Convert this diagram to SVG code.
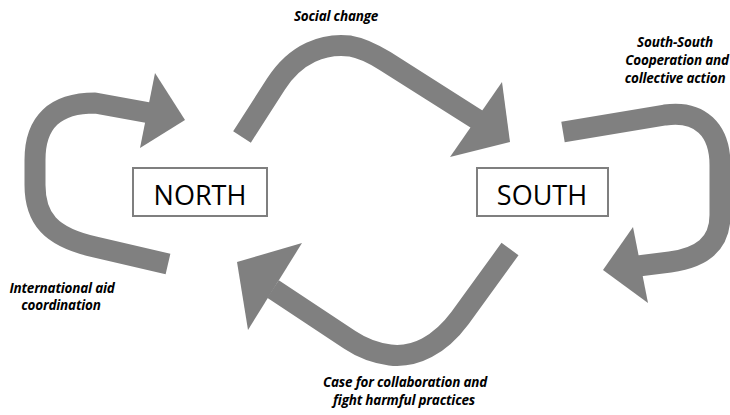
<svg xmlns="http://www.w3.org/2000/svg" width="730" height="415" viewBox="0 0 730 415">
<style>
.box{fill:#fff;stroke:#7f7f7f;stroke-width:2}
.node{font-family:"Open Sans","Liberation Sans",sans-serif;font-size:27px;fill:#000;text-anchor:middle}
.arr{fill:none;stroke:#808080;stroke-width:21;stroke-linejoin:round}
.head{fill:#808080}
.lbl{font-family:"Open Sans","Liberation Sans",sans-serif;font-size:13.5px;font-weight:bold;font-style:italic;fill:#000;text-anchor:middle;letter-spacing:-0.2px}
</style>
<rect width="730" height="415" fill="#fff"/>
<g id="connectors">
  <g id="arrow-intl-aid">
    <path class="arr" d="M168,264 L95,247 C50,237 35,218 35,185 L35,160 C35,122 55,103 95,103 L150,113"/>
    <polygon class="head" points="155,73 185,120 140,148"/>
  </g>
  <g id="arrow-social-change">
    <path class="arr" d="M242,137 L276,84 C296,53 324,43 350,46 C362,48 372,53 385,61 L478,120"/>
    <polygon class="head" points="502,82 510,142 450,157"/>
  </g>
  <g id="arrow-south-south">
    <path class="arr" d="M563,132 L665,115 C700,110 720,130 720,165 L720,215 C720,245 700,258 670,262 L638,266"/>
    <polygon class="head" points="633,227 603,270 648,303"/>
  </g>
  <g id="arrow-collaboration">
    <path class="arr" d="M510,249 L460,318 C440,345 415,358 390,355 C375,353 362,348 350,340 L273,289"/>
    <polygon class="head" points="302,243 237,262 248,330"/>
  </g>
</g>
<g id="north">
  <rect class="box" x="133" y="168" width="134" height="48"/>
  <text class="node" x="200" y="205">NORTH</text>
</g>
<g id="south">
  <rect class="box" x="477" y="168" width="131" height="48"/>
  <text class="node" x="542" y="205">SOUTH</text>
</g>
<g id="labels">
  <text class="lbl" x="336" y="21">Social change</text>
  <text class="lbl" x="675" y="47">South-South</text>
  <text class="lbl" x="677" y="65">Cooperation and</text>
  <text class="lbl" x="675" y="83">collective action</text>
  <text class="lbl" x="62" y="293">International aid</text>
  <text class="lbl" x="61" y="310">coordination</text>
  <text class="lbl" x="405" y="387">Case for collaboration and</text>
  <text class="lbl" x="404" y="405">fight harmful practices</text>
</g>
</svg>
